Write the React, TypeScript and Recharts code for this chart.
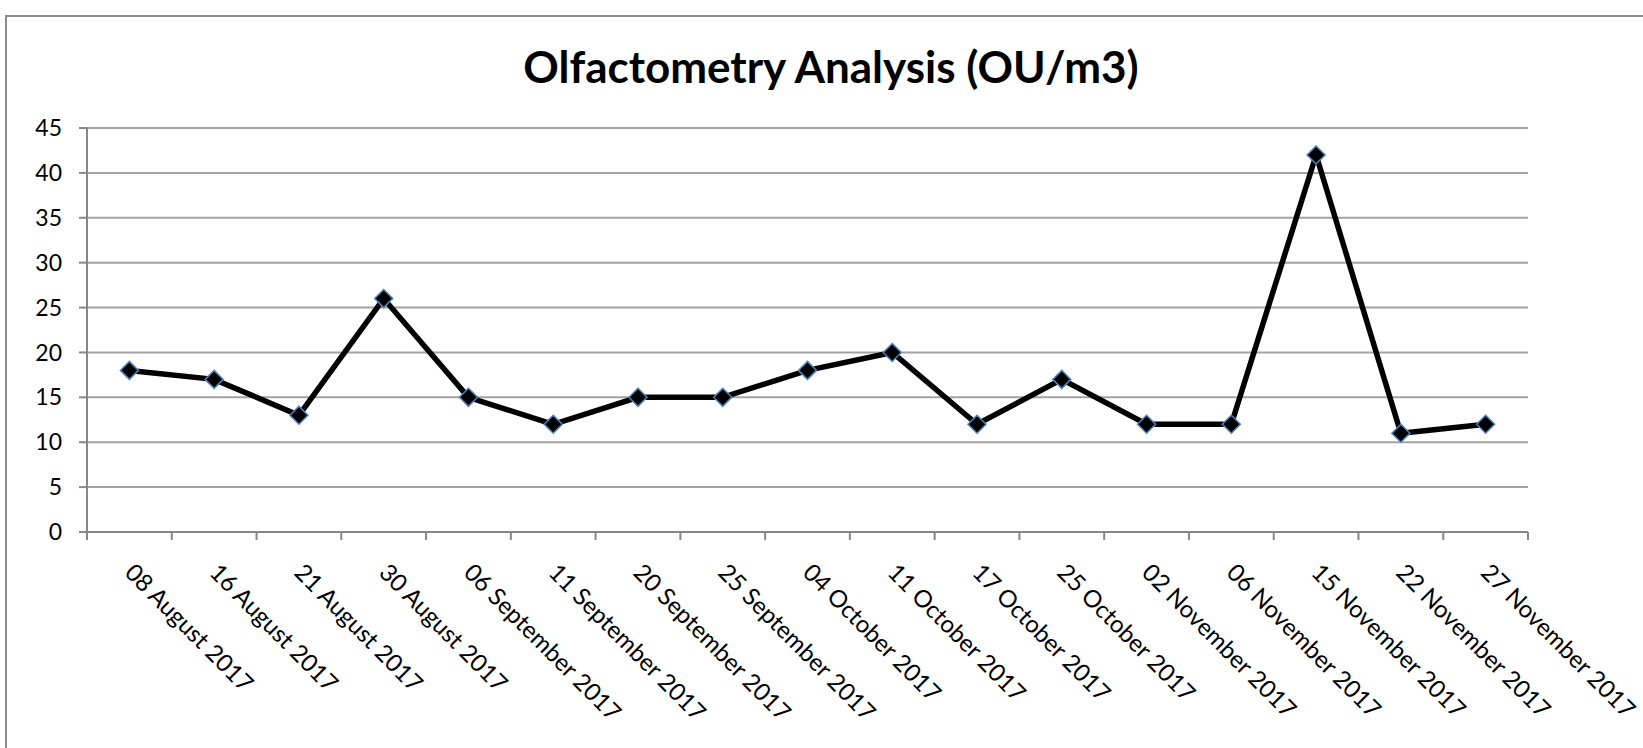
import React from 'react';
import { LineChart, Line, XAxis, YAxis, CartesianGrid } from 'recharts';

const DATES = [
  '08 August 2017',
  '16 August 2017',
  '21 August 2017',
  '30 August 2017',
  '06 September 2017',
  '11 September 2017',
  '20 September 2017',
  '25 September 2017',
  '04 October 2017',
  '11 October 2017',
  '17 October 2017',
  '25 October 2017',
  '02 November 2017',
  '06 November 2017',
  '15 November 2017',
  '22 November 2017',
  '27 November 2017',
];

const OU_VALUES = [18, 17, 13, 26, 15, 12, 15, 15, 18, 20, 12, 17, 12, 12, 42, 11, 12];

const Y_TICKS = [0, 5, 10, 15, 20, 25, 30, 35, 40, 45];

const TITLE = 'Olfactometry Analysis (OU/m3)';

const data = DATES.map((date, i) => ({ date, value: OU_VALUES[i] }));

const AXIS_GRAY = '#878787';
const GRID_GRAY = '#a3a3a3';
const FONT = 'Lato, "Open Sans", sans-serif';

// category label rotated 45deg, with tick marks drawn between categories (Excel style)
const DateTick = (props: any) => {
  const { x, y, payload, index, width, visibleTicksCount } = props;
  const count = visibleTicksCount || DATES.length;
  const half = width / (2 * count);
  return (
    <g>
      <line x1={x - half} y1={y} x2={x - half} y2={y + 8} stroke={AXIS_GRAY} strokeWidth={2} />
      {index === count - 1 && (
        <line x1={x + half} y1={y} x2={x + half} y2={y + 8} stroke={AXIS_GRAY} strokeWidth={2} />
      )}
      <text
        transform={`translate(${x - 6},${y + 42}) rotate(45)`}
        textAnchor="start"
        fontSize={24}
        fontFamily={FONT}
        fill="#000"
      >
        {payload.value}
      </text>
    </g>
  );
};

const DiamondDot = (props: any) => {
  const { cx, cy, index } = props;
  if (cx == null || cy == null) return null;
  const r = 9;
  return (
    <polygon
      key={`dot-${index}`}
      points={`${cx},${cy - r} ${cx + r},${cy} ${cx},${cy + r} ${cx - r},${cy}`}
      fill="#000"
      stroke="#4f81bd"
      strokeWidth={1.5}
    />
  );
};

export default function App() {
  return (
    <div
      style={{
        position: 'absolute',
        left: 0,
        top: 0,
        width: 1643,
        height: 748,
        overflow: 'hidden',
        background: '#fff',
      }}
    >
      <div
        style={{
          position: 'absolute',
          left: 5,
          top: 15,
          width: 1700,
          height: 800,
          border: '2px solid #8c8c8c',
        }}
      />
      <svg width={1643} height={120} style={{ position: 'absolute', left: 0, top: 0 }}>
        <text x={831} y={83} textAnchor="middle" fontSize={44} fontWeight="bold" fontFamily={FONT} fill="#000">
          {TITLE}
        </text>
      </svg>
      <div style={{ position: 'absolute', left: 0, top: 0 }}>
        <LineChart width={1643} height={748} data={data} margin={{ top: 128, right: 115, left: 7, bottom: 0 }}>
          <CartesianGrid vertical={false} stroke={GRID_GRAY} strokeWidth={2} />
          <XAxis
            dataKey="date"
            scale="band"
            interval={0}
            height={216}
            tickSize={0}
            tickMargin={0}
            axisLine={{ stroke: AXIS_GRAY, strokeWidth: 2 }}
            tickLine={false}
            tick={<DateTick />}
          />
          <YAxis
            domain={[0, 45]}
            ticks={Y_TICKS}
            interval={0}
            width={80}
            tickSize={8}
            tickMargin={17}
            axisLine={{ stroke: AXIS_GRAY, strokeWidth: 2 }}
            tickLine={{ stroke: AXIS_GRAY, strokeWidth: 2 }}
            tick={{ fill: '#000', fontSize: 23, fontFamily: FONT }}
          />
          <Line
            type="linear"
            dataKey="value"
            stroke="#000"
            strokeWidth={5.5}
            dot={<DiamondDot />}
            activeDot={false}
            isAnimationActive={false}
          />
        </LineChart>
      </div>
    </div>
  );
}
